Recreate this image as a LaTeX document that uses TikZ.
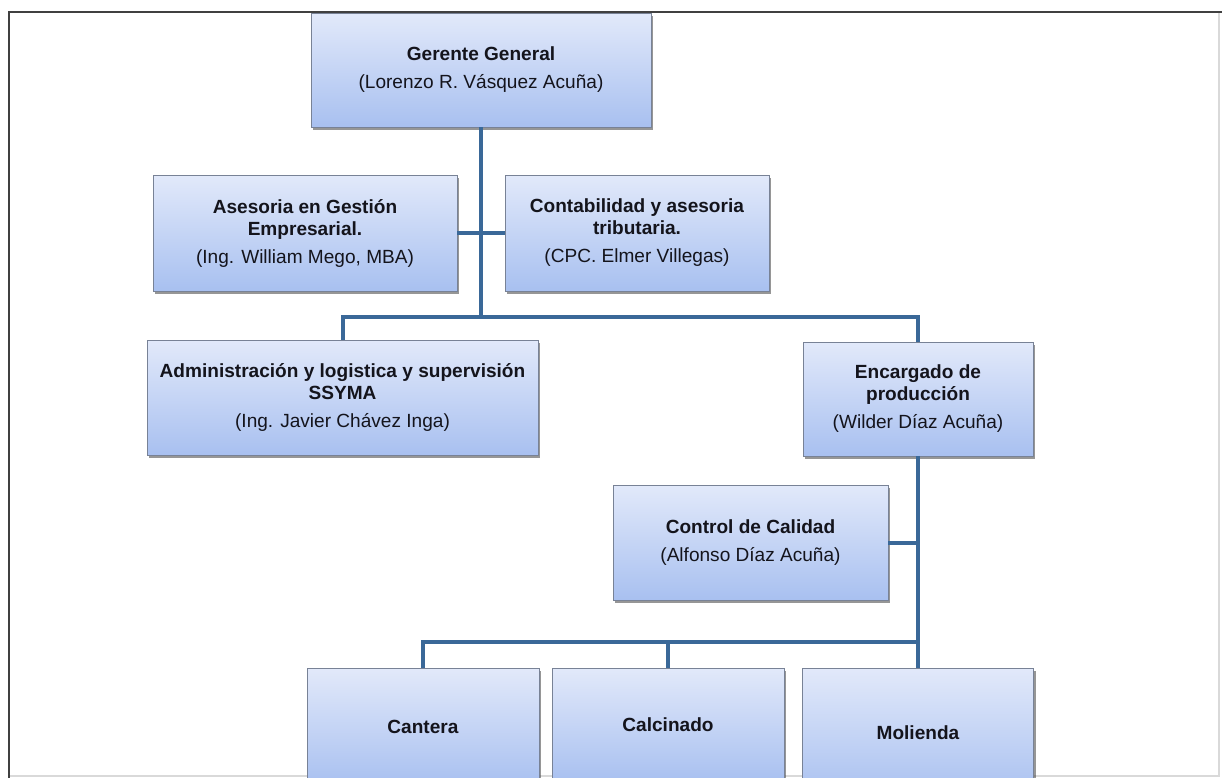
\documentclass[tikz,border=0pt]{standalone}
\usepackage{fontspec}
\setmainfont{Liberation Sans}
\usetikzlibrary{shadows}
\definecolor{linkblue}{RGB}{58,104,152}
\definecolor{boxtop}{RGB}{226,233,250}
\definecolor{boxbot}{RGB}{168,192,240}
\definecolor{boxedge}{RGB}{120,130,150}
\definecolor{inktext}{RGB}{20,20,28}
\begin{document}
\begin{tikzpicture}[x=0.75pt,y=-0.75pt,
  orgbox/.style={draw=boxedge, line width=0.6pt, top color=boxtop, bottom color=boxbot,
    drop shadow={shadow xshift=1.5pt, shadow yshift=-2.2pt, opacity=0.55, fill=black!75},
    align=center, text=inktext, font=\fontsize{14.3}{16.5}\selectfont, inner sep=0pt},
  boxsize/.style 2 args={minimum width=#1*0.75pt, minimum height=#2*0.75pt},
  link/.style={draw=linkblue, line width=3pt}
]
\useasboundingbox (0,0) rectangle (1222,778);
\clip (0,0) rectangle (1222,778);
\fill[white] (0,0) rectangle (1222,778);

% faint outer edges of the frame
\draw[black!15, line width=0.8pt] (1219,12) -- (1219,776) -- (9,776);

% boxes
\node[orgbox, boxsize={340}{114}] (gg) at (481,70)
  {\textbf{Gerente General}\\[4.5pt](Lorenzo R. Vásquez Acuña)};
\node[orgbox, boxsize={304}{116}] (ase) at (305,233)
  {\textbf{Asesoria en Gestión}\\\textbf{Empresarial.}\\[4.5pt](Ing. William Mego, MBA)};
\node[orgbox, boxsize={264}{116}] (con) at (637,233)
  {\textbf{Contabilidad y asesoria}\\\textbf{tributaria.}\\[4.5pt](CPC. Elmer Villegas)};
\node[orgbox, boxsize={391}{115}] (adm) at (342.5,397.5)
  {\textbf{Administración y logistica y supervisión}\\\textbf{SSYMA}\\[4.5pt](Ing. Javier Chávez Inga)};
\node[orgbox, boxsize={230}{114}] (enc) at (918,399)
  {\textbf{Encargado de}\\\textbf{producción}\\[4.5pt](Wilder Díaz Acuña)};
\node[orgbox, boxsize={275}{115}] (cal) at (750.5,542.5)
  {\textbf{Control de Calidad}\\[4.5pt](Alfonso Díaz Acuña)};
\node[orgbox, boxsize={232}{118}] (can) at (423,727) {\textbf{Cantera}};
\node[orgbox, boxsize={232}{114}] (calc) at (668,725) {\textbf{Calcinado}};
\node[orgbox, boxsize={231}{130}] (mol) at (918,733) {\textbf{Molienda}};

% connectors
\coordinate (hubTop) at (481,317);
\coordinate (hubLow) at (918,642);
\draw[link] (gg.south) -- (hubTop);
\draw[link] (ase.east) -- (con.west);
\draw[link] (adm.north) |- (hubTop) -| (enc.north);
\draw[link] (enc.south) -- (hubLow);
\draw[link] (cal.east) -- (cal.east -| hubLow);
\draw[link] (can.north) |- (hubLow) -- (mol.north);
\draw[link] (calc.north) -- (calc.north |- hubLow);

% frame
\draw[black!75, line width=2pt] (9,778) -- (9,12) -- (1222,12);
\end{tikzpicture}
\end{document}
